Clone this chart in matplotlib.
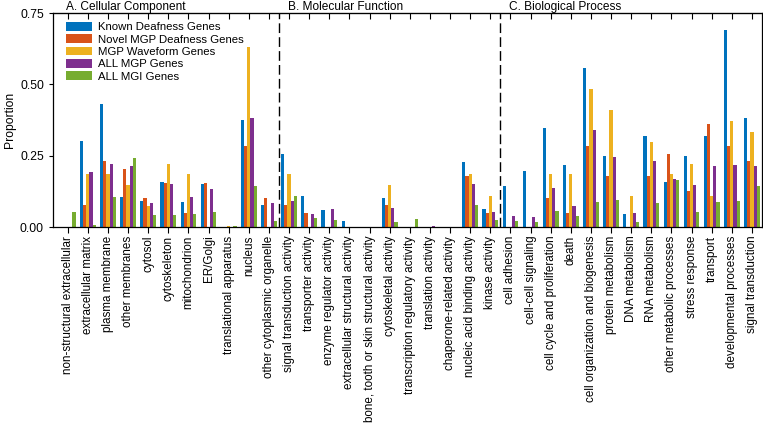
import matplotlib
matplotlib.use("Agg")
import matplotlib.pyplot as plt
import numpy as np

plt.rcParams['font.family'] = ['Liberation Sans', 'DejaVu Sans']

categories = [
    "non-structural extracellular", "extracellular matrix", "plasma membrane",
    "other membranes", "cytosol", "cytoskeleton", "mitochondrion", "ER/Golgi",
    "translational apparatus", "nucleus", "other cytoplasmic organelle",
    "signal transduction activity", "transporter activity", "enzyme regulator activity",
    "extracellular structural activity", "bone, tooth or skin structural activity",
    "cytoskeletal activity", "transcription regulatory activity", "translation activity",
    "chaperone-related activity", "nucleic acid binding activity", "kinase activity",
    "cell adhesion", "cell-cell signaling", "cell cycle and proliferation", "death",
    "cell organization and biogenesis", "protein metabolism", "DNA metabolism",
    "RNA metabolism", "other metabolic processes", "stress response", "transport",
    "developmental processes", "signal transduction",
]

known_deafness = [0.0, 0.302, 0.43, 0.106, 0.093, 0.16, 0.089, 0.152, 0.0, 0.376, 0.078,
                  0.258, 0.11, 0.06, 0.023, 0.0, 0.101, 0.0, 0.0, 0.0, 0.228, 0.064,
                  0.145, 0.196, 0.349, 0.219, 0.556, 0.251, 0.046, 0.32, 0.16, 0.251, 0.32, 0.692, 0.383]
novel_mgp = [0.0, 0.077, 0.232, 0.205, 0.103, 0.154, 0.051, 0.155, 0.0, 0.283, 0.103,
             0.077, 0.051, 0.0, 0.0, 0.0, 0.077, 0.0, 0.0, 0.0, 0.18, 0.051,
             0.0, 0.0, 0.104, 0.051, 0.283, 0.181, 0.0, 0.181, 0.257, 0.128, 0.36, 0.283, 0.231]
waveform = [0.0, 0.186, 0.186, 0.148, 0.076, 0.223, 0.187, 0.0, 0.003, 0.631, 0.0,
            0.187, 0.0, 0.0, 0.0, 0.0, 0.149, 0.0, 0.0, 0.0, 0.187, 0.111,
            0.0, 0.0, 0.187, 0.187, 0.484, 0.409, 0.111, 0.297, 0.187, 0.222, 0.111, 0.372, 0.334]
all_mgp = [0.0, 0.194, 0.222, 0.215, 0.085, 0.151, 0.107, 0.134, 0.0, 0.383, 0.086,
           0.092, 0.047, 0.065, 0.0, 0.0, 0.068, 0.0, 0.003, 0.0, 0.153, 0.053,
           0.038, 0.035, 0.138, 0.076, 0.342, 0.245, 0.05, 0.232, 0.17, 0.148, 0.216, 0.219, 0.214]
all_mgi = [0.053, 0.008, 0.106, 0.243, 0.043, 0.043, 0.045, 0.054, 0.005, 0.145, 0.023,
           0.11, 0.031, 0.026, 0.0, 0.0, 0.019, 0.028, 0.0, 0.0, 0.077, 0.025,
           0.023, 0.019, 0.057, 0.04, 0.09, 0.096, 0.019, 0.086, 0.166, 0.053, 0.09, 0.093, 0.145]

series_names = ["Known Deafness Genes", "Novel MGP Deafness Genes", "MGP Waveform Genes",
                "ALL MGP Genes", "ALL MGI Genes"]
series = [known_deafness, novel_mgp, waveform, all_mgp, all_mgi]
colors = ["#0072BD", "#D95319", "#EDB120", "#7E2F8E", "#77AC30"]

section_titles = ["A. Cellular Component", "B. Molecular Function", "C. Biological Process"]
section_starts = [0, 11, 22]

fig = plt.figure(figsize=(7.63, 4.25), dpi=100)
ax = fig.add_axes([53/763, 1 - 227.3/425, 709/763, 214.3/425])

x = np.arange(len(categories))
w = 0.156
for i, (vals, name, c) in enumerate(zip(series, series_names, colors)):
    ax.bar(x + (i - 2) * w, vals, width=w, color=c, label=name, linewidth=0)

for xb in [10.5, 21.5]:
    ax.axvline(xb, color='black', linestyle=(0, (7, 3)), linewidth=1.0)

ax.set_xlim(-0.73, 34.5)
ax.set_ylim(0, 0.75)
ax.set_yticks([0, 0.25, 0.5, 0.75])
ax.set_yticklabels(["0.00", "0.25", "0.50", "0.75"], fontsize=8.7)
ax.set_xticks(x)
ax.set_xticklabels(categories, rotation=90, fontsize=8.4)
ax.tick_params(axis='x', direction='out', length=4, width=0.8, pad=2)
ax.tick_params(axis='y', direction='out', length=3, width=0.8)
ax.set_ylabel("Proportion", fontsize=8.7, labelpad=3)
for s in ax.spines.values():
    s.set_linewidth(0.9)

sec = ax.secondary_xaxis('top')
sec.set_xticks(x)
sec.tick_params(direction='in', length=4, width=0.8, labeltop=False)

for t, xs in zip(section_titles, section_starts):
    ax.text(xs - 0.06, 1.012, t, transform=ax.get_xaxis_transform(),
            ha='left', va='baseline', fontsize=8.6)

ax.legend(loc='upper left', bbox_to_anchor=(12.7/709, 1 - 9/214.3), frameon=False,
          borderaxespad=0, borderpad=0, fontsize=8.2, handlelength=2.3,
          handleheight=0.8, handletextpad=0.55, labelspacing=0.18)

fig.savefig("out.png", dpi=100)
